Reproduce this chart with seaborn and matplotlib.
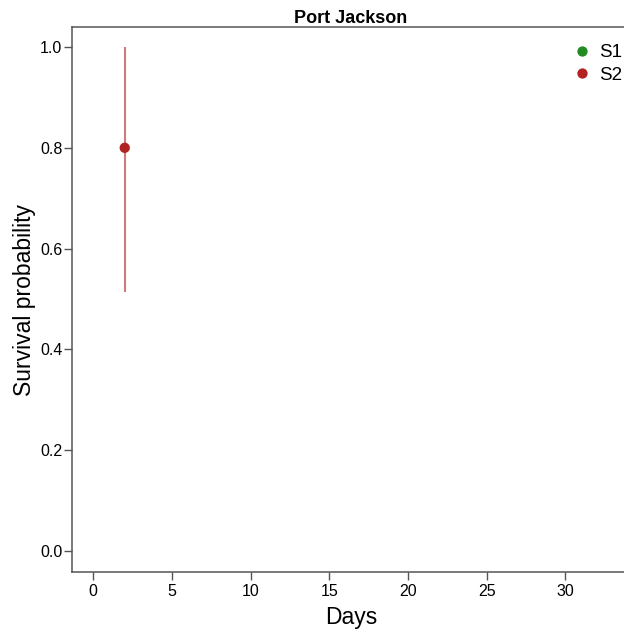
import matplotlib
matplotlib.use("Agg")
import matplotlib.pyplot as plt
import seaborn as sns
import pandas as pd

# Data
days = [2]
survival = [0.8]
lower = [0.514]
upper = [1.0]
group = ["S2"]
groups = ["S1", "S2"]
colors = {"S1": "#228B22", "S2": "#B22222"}
title = "Port Jackson"
x_ticks = [0, 5, 10, 15, 20, 25, 30]
y_ticks = [0.0, 0.2, 0.4, 0.6, 0.8, 1.0]

sns.set_style("ticks")
plt.rcParams["font.family"] = ["Liberation Sans", "DejaVu Sans"]
plt.rcParams["text.color"] = "black"
plt.rcParams["axes.labelcolor"] = "black"
plt.rcParams["xtick.labelcolor"] = "black"
plt.rcParams["ytick.labelcolor"] = "black"

df = pd.DataFrame({"Days": days, "Survival": survival, "lower": lower,
                   "upper": upper, "Group": pd.Categorical(group, categories=groups)})

fig = plt.figure(figsize=(6.24, 6.29), dpi=100)
W, H = 624, 629
left, right, top, bottom = 72, 630, 27, 572
ax = fig.add_axes([left / W, 1 - bottom / H, (right - left) / W, (bottom - top) / H])

for g in groups:
    sub = df[df["Group"] == g]
    if len(sub):
        ax.vlines(sub["Days"], sub["lower"], sub["upper"], color=colors[g],
                  alpha=0.6, lw=1.5, zorder=2)

sns.scatterplot(data=df, x="Days", y="Survival", hue="Group", hue_order=groups,
                palette=colors, s=55, edgecolor="none", ax=ax, zorder=3)

ax.set_xlim(-1.35, 34.1)
ax.set_ylim(-0.0417, 1.0397)
ax.set_xticks(x_ticks)
ax.set_yticks(y_ticks)
ax.set_yticklabels([f"{v:.1f}" for v in y_ticks])
ax.set_xlabel("Days", fontsize=16.5, labelpad=5)
ax.set_ylabel("Survival probability", fontsize=16.5, labelpad=3)
ax.set_title(title, fontsize=13, fontweight="bold", pad=2)
ax.tick_params(axis="both", labelsize=11.5, length=6, width=1, color="#555555",
               direction="out")
ax.tick_params(axis="y", pad=1)
ax.tick_params(axis="x", pad=3)

for s in ["left", "bottom", "top", "right"]:
    ax.spines[s].set_color("#555555")
    ax.spines[s].set_linewidth(1.1)

leg = ax.legend(title=None, frameon=False, fontsize=13.5, loc="upper left",
                bbox_to_anchor=(574.5 / W, 1 - 44 / H), bbox_transform=fig.transFigure,
                handlelength=0.8, handletextpad=0.5, borderaxespad=0, borderpad=0,
                labelspacing=0.3, markerscale=1.0)

fig.savefig("out.png", dpi=100)
